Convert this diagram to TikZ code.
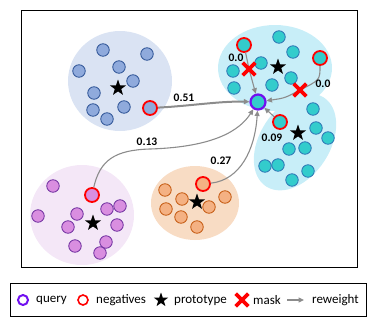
\documentclass[tikz,border=0pt]{standalone}
\usepackage{fontspec}
\setmainfont{Carlito}
\usetikzlibrary{shapes.geometric, shapes.misc, arrows.meta}
\definecolor{blue-bg}{HTML}{DAE3F3}
\definecolor{blue-dot}{HTML}{8FAADC}
\definecolor{blue-line}{HTML}{2F5597}
\definecolor{cyan-bg}{HTML}{C8EEF8}
\definecolor{cyan-dot}{HTML}{33CCCC}
\definecolor{cyan-line}{HTML}{2E75B6}
\definecolor{purple-bg}{HTML}{F4E7F7}
\definecolor{purple-dot}{HTML}{D98EE0}
\definecolor{purple-line}{HTML}{7030A0}
\definecolor{orange-bg}{HTML}{F8DCC4}
\definecolor{orange-dot}{HTML}{F4B183}
\definecolor{orange-line}{HTML}{C55A11}
\definecolor{query-line}{HTML}{7010F0}
\definecolor{arrow-gray}{HTML}{8C8C8C}

\begin{document}
\begin{tikzpicture}[x=1pt, y=-1pt,
        every node/.style={font=\fontsize{11.5}{13}\selectfont\bfseries},
        dot/.style={circle, draw, line width=0.8pt, minimum size=12.5pt, inner sep=0pt},
        bdot/.style={dot, draw=blue-line, fill=blue-dot},
        cdot/.style={dot, draw=cyan-line, fill=cyan-dot},
        pdot/.style={dot, draw=purple-line, fill=purple-dot},
        odot/.style={dot, draw=orange-line, fill=orange-dot},
        neg/.style={draw=red, line width=1.8pt, minimum size=14pt},
        query/.style={draw=query-line, line width=2.2pt, minimum size=15pt},
        proto/.style={star, star points=5, star point ratio=2.5, fill=black, inner sep=0pt, minimum size=17pt},
        mask/.style={cross out, draw=red, line width=3.6pt, minimum size=9pt, inner sep=0pt},
        reweight/.style={draw=arrow-gray, line width=1.1pt, -{Triangle[length=5.5pt, width=5pt]}},
        legtext/.style={font=\fontsize{13}{15}\selectfont, anchor=west, inner sep=0pt}]
      \useasboundingbox (0,0) rectangle (374,324);
      \draw[line width=1pt] (21,10) rectangle (357,267);
      % clusters
      \fill[blue-bg] (120,81) ellipse [x radius=52pt, y radius=50pt];
      \fill[purple-bg] (82,215) ellipse [x radius=52pt, y radius=50pt];
      \fill[orange-bg] (195,203) ellipse [x radius=44pt, y radius=37pt];
      \fill[cyan-bg] (275,68) ellipse [x radius=57pt, y radius=43pt];
      \fill[cyan-bg, rotate around={57:(295,142)}] (295,142) ellipse [x radius=53pt, y radius=35pt];
      \foreach \p in {(103,50),(147,54),(79,71),(119,67),(133,81),(94,93),(93,110),(107,119),(124,107)}
        \node[bdot] at \p {};
      \foreach \p in {(279,37),(293,52),(261,63),(233,71),(234,88),(272,85),(291,78),
                      (313,109),(316,128),(328,138),(289,149),(305,148),(265,166),(278,165),(308,171),(292,180)}
        \node[cdot] at \p {};
      \foreach \p in {(53,186),(38,216),(77,214),(68,227),(107,209),(120,206),(117,225),(75,246),(106,242),(100,253)}
        \node[pdot] at \p {};
      \foreach \p in {(165,190),(182,199),(225,197),(209,207),(166,209),(181,217),(197,227)}
        \node[odot] at \p {};
      \node[bdot, neg] (nb) at (150,108) {};
      \node[pdot, neg] (np) at (92,195) {};
      \node[odot, neg] (no) at (203,184) {};
      \node[cdot, neg] (nc1) at (244,45) {};
      \node[cdot, neg] (nc2) at (320,58) {};
      \node[cdot, neg] (nc3) at (280,122) {};
      \node[cdot, query] (q) at (258,102) {};
      % reweighting
      \coordinate (m1) at (249,69);
      \coordinate (m2) at (300,90);
      \draw[reweight, line width=2pt] (nb) .. controls (190,106) and (220,101) .. (q);
      \draw[reweight] (np) .. controls (100,160) and (115,150) .. (150,149) .. controls (215,147) and (240,130) .. (q);
      \draw[reweight] (no) .. controls (240,180) and (255,150) .. (q);
      \draw[reweight] (nc3) -- (q);
      \draw[reweight] (nc1) -- (m1) -- (q);
      \draw[reweight] (nc2) .. controls (320,80) .. (m2) .. controls (285,98) .. (q);
      \node[mask] (x1) at (m1) {};
      \node[mask] (x2) at (m2) {};
      \node (w-nb) at (184,98) {0.51};
      \node (w-np) at (147,142) {0.13};
      \node (w-no) at (221,161) {0.27};
      \node (w-nc3) at (272,138) {0.09};
      \node (w-nc1) at (236,58) {0.0};
      \node (w-nc2) at (323,84) {0.0};
      \node[proto] (pb) at (118,88) {};
      \node[proto] (pc1) at (278,67) {};
      \node[proto] (pc2) at (298,133) {};
      \node[proto] (pp) at (93,223) {};
      \node[proto] (po) at (197,202) {};
      % legend
      \draw[line width=1pt] (10,283) rectangle (366,316);
      \node[circle, draw=query-line, line width=2pt, minimum size=10pt, inner sep=0pt] (lq) at (23,300) {};
      \node[legtext] at (36,300) {query};
      \node[circle, draw=red, line width=1.6pt, minimum size=10pt, inner sep=0pt] (ln) at (83,300) {};
      \node[legtext] at (96,300) {negatives};
      \node[proto, minimum size=15pt] (lp) at (161,300) {};
      \node[legtext] at (174,300) {prototype};
      \node[mask] (lm) at (242,300) {};
      \node[legtext] at (253,300) {mask};
      \coordinate (la) at (287,300);
      \coordinate (lb) at (304,300);
      \draw[reweight] (la) -- (lb);
      \node[legtext] at (312,300) {reweight};
    \end{tikzpicture}
\end{document}
